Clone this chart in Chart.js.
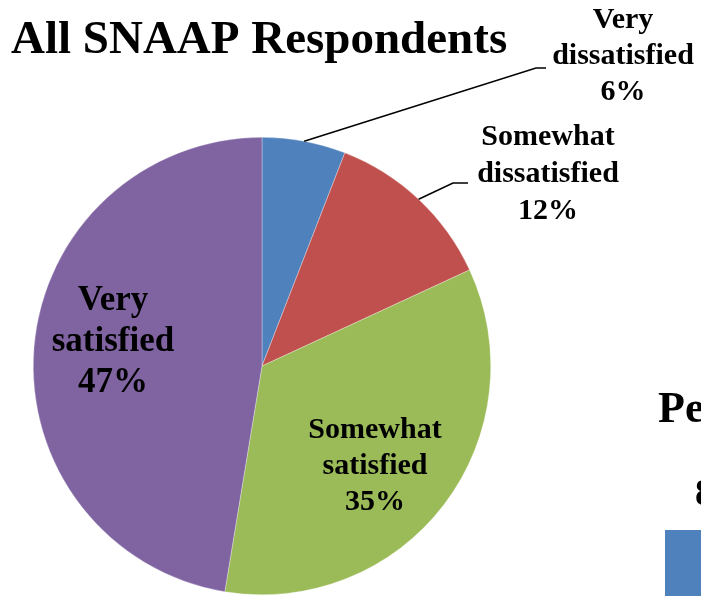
<!DOCTYPE html>
<html>
<head>
<meta charset="utf-8">
<script src="https://cdn.jsdelivr.net/npm/chart.js@4/dist/chart.umd.min.js"></script>
<style>
    html, body { margin: 0; padding: 0; background: #fff; overflow: hidden; }
    #wrap { position: relative; width: 701px; height: 596px; overflow: hidden; }
    #box { position: absolute; left: 0; top: 0; width: 701px; height: 596px; }
    .frag { position: absolute; font-family: 'Liberation Serif', serif; font-weight: bold; color: #000; white-space: nowrap; line-height: 1; }
    #nextBar { position: absolute; left: 665px; top: 530px; width: 60px; height: 80px; background: #4f81bd; }
</style>
</head>
<body>
<div id="wrap">
    <div id="box"><canvas id="pie"></canvas></div>
    <!-- pieces of the next chart on the slide, cut by the frame -->
    <div class="frag" style="left:658px; top:386px; font-size:44px;">Pe</div>
    <div class="frag" style="left:695px; top:474px; font-size:37px;">8</div>
    <div id="nextBar"></div>
</div>
<script>
const categories = [
    ['Very', 'dissatisfied'],
    ['Somewhat', 'dissatisfied'],
    ['Somewhat', 'satisfied'],
    ['Very', 'satisfied']
];
// shares; labels show them rounded
const shares = [5.9, 12.2, 34.5, 47.4];
const sliceColors = ['#4f81bd', '#c0504d', '#9bbb59', '#8064a2'];

// where each label block sits (center x, first baseline), font size, line gap, leader line
const labelSpots = [
    { x: 623, y: 28, size: 30, gap: 36, leader: [[536, 68], [546, 68]] },
    { x: 548, y: 145, size: 30, gap: 37, leader: [[453, 183], [468, 183]] },
    { x: 375, y: 438, size: 30, gap: 36 },
    { x: 113, y: 310, size: 35, gap: 41 }
];

const sliceLabels = {
    id: 'sliceLabels',
    afterDraw(chart) {
        const ctx = chart.ctx;
        const meta = chart.getDatasetMeta(0);
        ctx.save();

        // title
        ctx.fillStyle = '#000';
        ctx.font = 'bold 47px "Liberation Serif", serif';
        ctx.textAlign = 'left';
        ctx.textBaseline = 'alphabetic';
        ctx.fillText('All SNAAP Respondents', 11, 53);

        meta.data.forEach((arc, i) => {
            const spot = labelSpots[i];
            const p = arc.getProps(['x', 'y', 'startAngle', 'endAngle', 'outerRadius'], true);
            if (spot.leader) {
                const mid = (p.startAngle + p.endAngle) / 2;
                const sx = p.x + Math.cos(mid) * p.outerRadius;
                const sy = p.y + Math.sin(mid) * p.outerRadius;
                ctx.beginPath();
                ctx.strokeStyle = '#000';
                ctx.lineWidth = 1.5;
                ctx.moveTo(sx, sy);
                spot.leader.forEach(pt => ctx.lineTo(pt[0], pt[1]));
                ctx.stroke();
            }
            const lines = categories[i].concat([Math.round(shares[i]) + '%']);
            ctx.font = 'bold ' + spot.size + 'px "Liberation Serif", serif';
            ctx.textAlign = 'center';
            ctx.fillStyle = '#000';
            lines.forEach((t, k) => ctx.fillText(t, spot.x, spot.y + k * spot.gap));
        });
        ctx.restore();
    }
};

new Chart(document.getElementById('pie'), {
    type: 'pie',
    data: {
        labels: categories,
        datasets: [{
            data: shares,
            backgroundColor: sliceColors,
            borderColor: 'rgba(255,255,255,0.6)',
            borderWidth: 0.5
        }]
    },
    options: {
        responsive: true,
        maintainAspectRatio: false,
        animation: false,
        devicePixelRatio: 1,
        layout: { padding: { left: 33, right: 210, top: 137, bottom: 1 } },
        plugins: {
            legend: { display: false },
            tooltip: { enabled: false }
        }
    },
    plugins: [sliceLabels]
});
</script>
</body>
</html>
